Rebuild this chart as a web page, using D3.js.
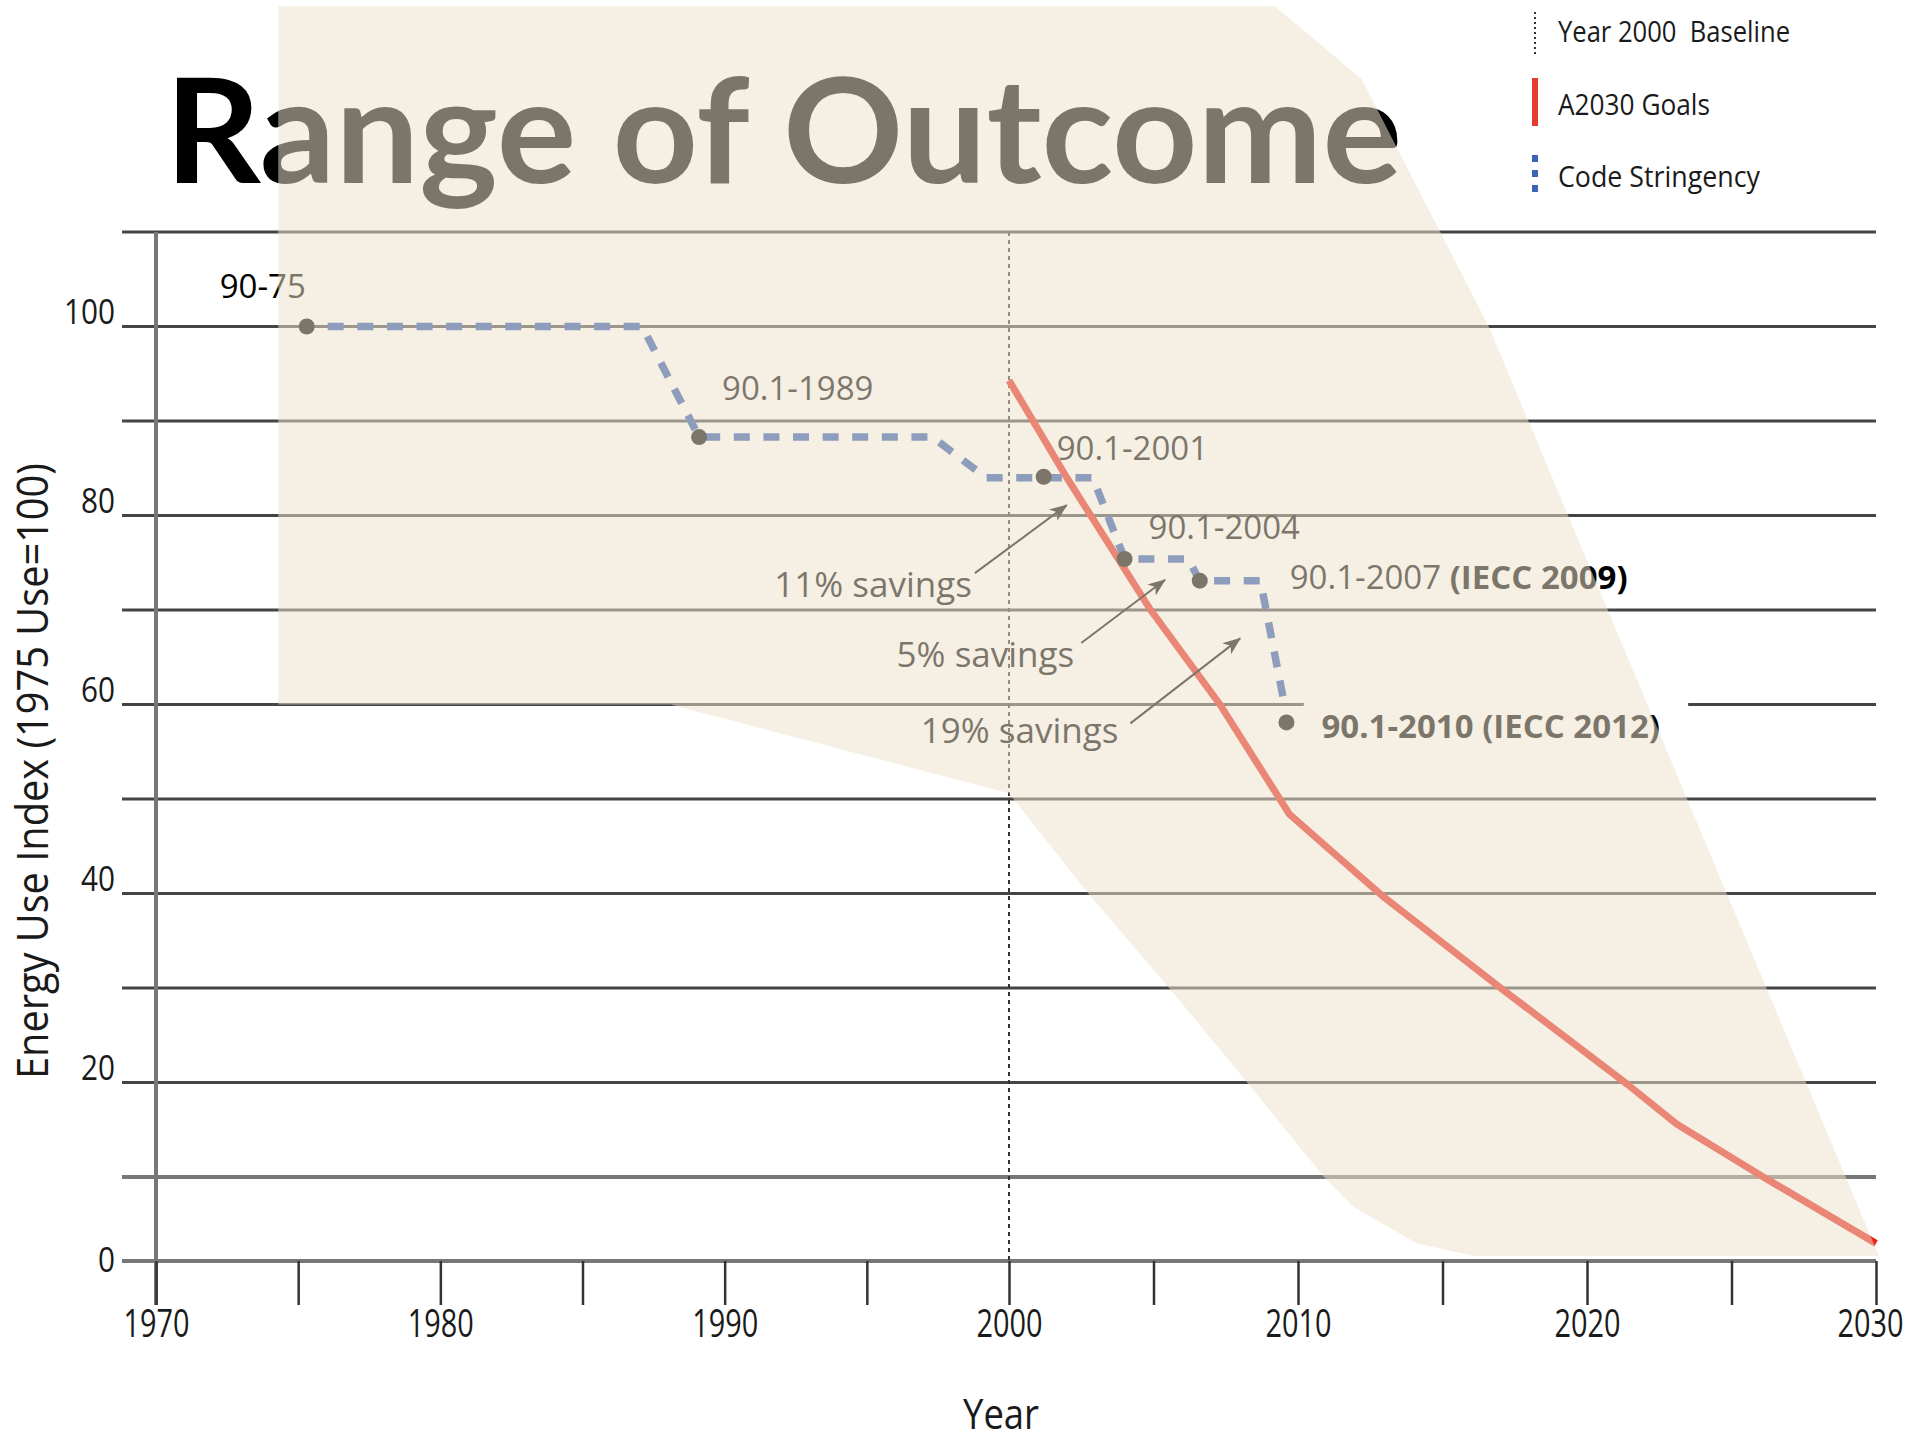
<!DOCTYPE html>
<html>
<head>
<meta charset="utf-8">
<script src="https://cdnjs.cloudflare.com/ajax/libs/d3/7.8.5/d3.min.js"></script>
<style>
  body { margin: 0; background: #fff; }
  svg { display: block; }
  text { font-family: "Open Sans", "Noto Sans", sans-serif; }
</style>
</head>
<body>
<div class="canvas"></div>
<script>
// energy use index: A2030 goals vs code stringency

var gridValues  = [0, 10, 20, 30, 40, 50, 60, 70, 80, 90, 100, 110];
var yTickLabels = [0, 20, 40, 60, 80, 100];
var xTickYears  = [1970, 1975, 1980, 1985, 1990, 1995, 2000, 2005, 2010, 2015, 2020, 2025, 2030];
var xTickLabels = [1970, 1980, 1990, 2000, 2010, 2020, 2030];
var baselineYear = 2000;

var goalYears  = [2000, 2002, 2004.9, 2007.3, 2009.7, 2012.9, 2017.1, 2021.4, 2023.1, 2026.1, 2030];
var goalValues = [94.3, 84, 70, 60, 48.4, 39.8, 29.8, 19.8, 15.6, 10, 2.1];

var codeYears  = [1975.3, 1987.1, 1989.1, 1997.3, 1999.2, 2002.9, 2004.0, 2006.2, 2006.6, 2008.7, 2009.5];
var codeValues = [100, 100, 88.3, 88.3, 84, 84, 75.4, 75.4, 73.1, 73.1, 60.5];

var codeNames     = ['90-75', '90.1-1989', '90.1-2001', '90.1-2004', '90.1-2007 ', '90.1-2010 '];
var codeIecc      = ['', '', '', '', '(IECC 2009)', '(IECC 2012)'];
var releaseYears  = [1975.3, 1989.1, 2001.2, 2004.0, 2006.6, 2009.6];
var releaseValues = [100, 88.3, 84.1, 75.4, 73.1, 58.1];

var savingsLabels    = ['11% savings', '5% savings', '19% savings'];
var savingsFromYear  = [1998.8, 2002.5, 2004.2];
var savingsFromValue = [73.9, 66.5, 58.0];
var savingsToYear    = [2002.0, 2005.4, 2008.0];
var savingsToValue   = [81.1, 73.2, 67.0];

var rangeYears  = [1974.3, 2009.2, 2012.2, 2016.6, 2030.1, 2016.1, 2014.1, 2011.9, 2010.9, 2008.3, 2005.6, 2002.8, 2000, 1988.1, 1974.3];
var rangeValues = [133.9, 133.9, 126.2, 100, 0.6, 0.6, 2.1, 6.5, 10, 19.8, 29.8, 39.8, 50.6, 60, 60];

var legendNames = ['Year 2000  Baseline', 'A2030 Goals', 'Code Stringency'];

var W = 1912, H = 1445;

var x = d3.scaleLinear().domain([1970, 2000, 2030]).range([156, 1009, 1876]);
var y = d3.scaleLinear().domain([0, 10, 110]).range([1261, 1177, 232]);

var svg = d3.select('.canvas').append('svg')
  .attr('width', W).attr('height', H);

var defs = svg.append('defs');
defs.append('marker')
  .attr('id', 'arrow')
  .attr('markerUnits', 'userSpaceOnUse')
  .attr('markerWidth', 20).attr('markerHeight', 16)
  .attr('refX', 17).attr('refY', 7)
  .attr('orient', 'auto')
  .append('path')
    .attr('d', 'M0,0 L18,7 L0,14 L5,7 Z')
    .attr('fill', '#000');

// gridlines (the 60 line is broken for the 90.1-2010 label)
var gridLeft = 122, gridRight = x(2030);
var gridSegs = [];
gridValues.forEach(function(v) {
  if (v === 60) {
    gridSegs.push([gridLeft, x(2010.2), v]);
    gridSegs.push([x(2023.5), gridRight, v]);
  } else {
    gridSegs.push([gridLeft, gridRight, v]);
  }
});
svg.append('g').attr('class', 'grid')
  .selectAll('line').data(gridSegs).enter().append('line')
    .attr('x1', function(d) { return d[0]; })
    .attr('x2', function(d) { return d[1]; })
    .attr('y1', function(d) { return y(d[2]); })
    .attr('y2', function(d) { return y(d[2]); })
    .attr('stroke', function(d) { return d[2] <= 10 ? '#777' : '#444'; })
    .attr('stroke-width', function(d) { return d[2] <= 10 ? 4 : 3; });

// y axis line
svg.append('line')
  .attr('x1', x(1970)).attr('x2', x(1970))
  .attr('y1', y(110)).attr('y2', y(0) + 44)
  .attr('stroke', '#777').attr('stroke-width', 4);

// x axis
var xAxis = d3.axisBottom(x)
  .tickValues(xTickYears)
  .tickSize(44)
  .tickPadding(5)
  .tickFormat(function(d) { return xTickLabels.indexOf(d) >= 0 ? d : ''; });
var gx = svg.append('g')
  .attr('transform', 'translate(0,' + y(0) + ')')
  .call(xAxis);
gx.select('.domain').remove();
gx.selectAll('.tick line').attr('stroke', '#333').attr('stroke-width', 2.5);
gx.selectAll('.tick text')
  .attr('font-size', 38)
  .attr('fill', '#1a1a1a')
  .style('font-family', '"Open Sans", sans-serif')
  .attr('x', function(d) { return d === 2030 ? -8 : 0; })
  .attr('transform', 'scale(0.76,1)');

// y axis labels
var yAxis = d3.axisLeft(y).tickValues(yTickLabels).tickSize(0).tickPadding(7);
var gy = svg.append('g')
  .attr('transform', 'translate(' + gridLeft + ',0)')
  .call(yAxis);
gy.select('.domain').remove();
gy.selectAll('.tick text')
  .attr('font-size', 34)
  .attr('dy', function(d) { return d === 0 ? '0.32em' : '-0.08em'; })
  .attr('fill', '#1a1a1a')
  .style('font-family', '"Open Sans", sans-serif')
  .attr('textLength', function(d) { return String(d).length * 17; })
  .attr('lengthAdjust', 'spacingAndGlyphs');

// axis titles
svg.append('text')
  .attr('transform', 'translate(48,771) rotate(-90)')
  .attr('text-anchor', 'middle')
  .attr('font-size', 43)
  .attr('fill', '#1a1a1a')
  .attr('textLength', 616)
  .attr('lengthAdjust', 'spacingAndGlyphs')
  .text('Energy Use Index (1975 Use=100)');

svg.append('text')
  .attr('x', 1001).attr('y', 1429)
  .attr('text-anchor', 'middle')
  .attr('font-size', 42)
  .attr('fill', '#1a1a1a')
  .attr('textLength', 76)
  .attr('lengthAdjust', 'spacingAndGlyphs')
  .text('Year');

// slide title
svg.append('text')
  .attr('x', 165).attr('y', 183)
  .attr('font-size', 146)
  .attr('font-weight', 700)
  .style('font-family', 'Lato, "Open Sans", sans-serif')
  .attr('fill', '#000')
  .attr('textLength', 1237)
  .attr('lengthAdjust', 'spacingAndGlyphs')
  .text('Range of Outcome');

// year 2000 baseline
svg.append('line')
  .attr('x1', x(baselineYear)).attr('x2', x(baselineYear))
  .attr('y1', y(110)).attr('y2', y(0))
  .attr('stroke', '#333').attr('stroke-width', 2)
  .attr('stroke-dasharray', '4,4');

// A2030 goals
var goalLine = d3.line()
  .x(function(d, i) { return x(goalYears[i]); })
  .y(function(d, i) { return y(goalValues[i]); });
svg.append('path')
  .attr('d', goalLine(goalYears))
  .attr('fill', 'none')
  .attr('stroke', '#e8251a')
  .attr('stroke-width', 7)
  .attr('stroke-linejoin', 'round');

// code stringency
var codeLine = d3.line()
  .x(function(d, i) { return x(codeYears[i]); })
  .y(function(d, i) { return y(codeValues[i]); });
svg.append('path')
  .attr('d', codeLine(codeYears))
  .attr('fill', 'none')
  .attr('stroke', '#2a55ad')
  .attr('stroke-width', 7.5)
  .attr('stroke-dasharray', '16,13.6')
  .attr('stroke-dashoffset', 8.6);

svg.append('g').selectAll('circle')
  .data(releaseYears).enter().append('circle')
    .attr('cx', function(d) { return x(d); })
    .attr('cy', function(d, i) { return y(releaseValues[i]); })
    .attr('r', 8)
    .attr('fill', '#000');

// code labels
var labelOffsets = [[-87, -29], [23, -37], [13, -17], [24, -20], [90, 8], [35, 16]];
var codeText = svg.append('g').selectAll('text')
  .data(codeNames).enter().append('text')
    .attr('x', function(d, i) { return x(releaseYears[i]) + labelOffsets[i][0]; })
    .attr('y', function(d, i) { return y(releaseValues[i]) + labelOffsets[i][1]; })
    .attr('font-size', 33)
    .attr('fill', '#000')
    .style('white-space', 'pre');
codeText.append('tspan')
  .attr('font-weight', function(d, i) { return i === 5 ? 700 : 400; })
  .text(function(d) { return d; });
codeText.append('tspan')
  .attr('font-weight', 700)
  .text(function(d, i) { return codeIecc[i]; });

// savings arrows
var savingsOffsets = [[-3, 24], [-7, 24], [-12, 20]];
var arrows = svg.append('g');
arrows.selectAll('line')
  .data(savingsLabels).enter().append('line')
    .attr('x1', function(d, i) { return x(savingsFromYear[i]); })
    .attr('y1', function(d, i) { return y(savingsFromValue[i]); })
    .attr('x2', function(d, i) { return x(savingsToYear[i]); })
    .attr('y2', function(d, i) { return y(savingsToValue[i]); })
    .attr('stroke', '#000')
    .attr('stroke-width', 2)
    .attr('marker-end', 'url(#arrow)');
arrows.selectAll('text')
  .data(savingsLabels).enter().append('text')
    .attr('x', function(d, i) { return x(savingsFromYear[i]) + savingsOffsets[i][0]; })
    .attr('y', function(d, i) { return y(savingsFromValue[i]) + savingsOffsets[i][1]; })
    .attr('text-anchor', 'end')
    .attr('font-size', 35)
    .attr('fill', '#000')
    .text(function(d) { return d; });

// range of outcome, translucent over everything
var rangeLine = d3.line()
  .x(function(d, i) { return x(rangeYears[i]); })
  .y(function(d, i) { return y(rangeValues[i]); });
svg.append('path')
  .attr('d', rangeLine(rangeYears) + 'Z')
  .attr('fill', '#ebe0cb')
  .attr('fill-opacity', 0.52);

// legend
var legend = svg.append('g');
var legX = 1535;
legend.append('line')
  .attr('x1', legX).attr('x2', legX).attr('y1', 12).attr('y2', 55)
  .attr('stroke', '#333').attr('stroke-width', 2).attr('stroke-dasharray', '2,3');
legend.append('rect')
  .attr('x', legX - 3).attr('y', 78).attr('width', 6).attr('height', 48)
  .attr('fill', '#e53a30');
legend.append('line')
  .attr('x1', legX).attr('x2', legX).attr('y1', 155).attr('y2', 200)
  .attr('stroke', '#3c64b4').attr('stroke-width', 6).attr('stroke-dasharray', '7,8');
var legendBase = [42, 115, 187];
var legendLen = [232, 152, 202];
legend.selectAll('text')
  .data(legendNames).enter().append('text')
    .attr('x', 1558)
    .attr('y', function(d, i) { return legendBase[i]; })
    .attr('font-size', 30)
    .attr('fill', '#1a1a1a')
    .style('white-space', 'pre')
    .attr('textLength', function(d, i) { return legendLen[i]; })
    .attr('lengthAdjust', 'spacingAndGlyphs')
    .text(function(d) { return d; });
</script>
</body>
</html>
